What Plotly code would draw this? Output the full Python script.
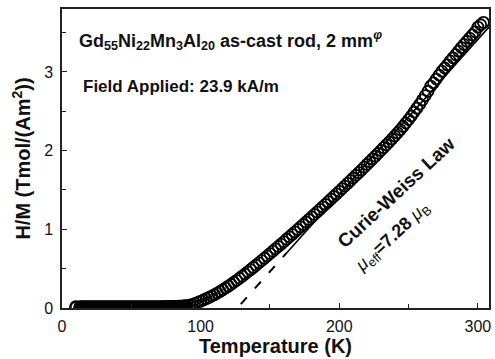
import plotly.graph_objects as go

# ---- data ----
T_flat = [10, 13, 14, 15, 16, 17, 18, 19, 20, 21, 22, 23, 24, 25, 26, 27, 28, 29, 30,
          31, 32, 33, 34, 35, 36, 37, 38, 39, 40, 41, 42, 43, 44, 45, 46, 47, 48, 49, 50,
          51, 52, 53, 54, 55, 56, 57, 58, 59, 60, 61, 62, 63, 64, 65, 66, 67, 68, 69, 70,
          71, 72, 73, 74, 75, 76, 77, 78, 79, 80, 81, 82, 83, 84, 85, 86, 87, 88, 89]
HM_flat = [0.012, 0.011, 0.010, 0.011, 0.010, 0.010, 0.011, 0.010, 0.010, 0.011, 0.010,
           0.010, 0.011, 0.010, 0.010, 0.011, 0.010, 0.010, 0.011, 0.010, 0.010, 0.011,
           0.010, 0.010, 0.011, 0.010, 0.010, 0.011, 0.010, 0.010, 0.011, 0.010, 0.010,
           0.011, 0.010, 0.010, 0.011, 0.010, 0.010, 0.011, 0.010, 0.010, 0.011, 0.010,
           0.010, 0.011, 0.010, 0.010, 0.011, 0.010, 0.010, 0.011, 0.010, 0.010, 0.011,
           0.010, 0.010, 0.011, 0.010, 0.010, 0.011, 0.011, 0.011, 0.012, 0.012, 0.012,
           0.013, 0.013, 0.014, 0.014, 0.015, 0.016, 0.017, 0.018, 0.019, 0.020, 0.022, 0.024]

T_rise = [90, 92, 94, 96, 98, 100, 102, 104, 106, 108, 110, 112, 114, 116, 118, 120,
          122, 124, 126, 128, 130, 132, 134, 136, 138, 140, 142, 144, 146, 148, 150, 152,
          154, 156, 158, 160, 162, 164, 166, 168, 170, 172, 174, 176, 178, 180, 182, 184,
          186, 188, 190, 192, 194, 196, 198, 200, 202, 204, 206, 208, 210, 212, 214, 216,
          218, 220, 222, 224, 226, 228, 230, 232, 234, 236, 238, 240, 242, 244, 246, 248,
          250, 252, 254, 256, 258, 260, 262, 264, 266, 268, 270, 272, 274, 276, 278, 280,
          282, 284, 286, 288, 290, 292, 294, 296, 298, 300, 302, 304]
HM_rise = [0.027, 0.035, 0.045, 0.058, 0.072, 0.087, 0.102, 0.118, 0.135, 0.152, 0.170,
           0.190, 0.210, 0.232, 0.255, 0.278, 0.302, 0.327, 0.352, 0.378, 0.405, 0.432,
           0.460, 0.488, 0.516, 0.545, 0.574, 0.603, 0.632, 0.662, 0.692, 0.722, 0.752,
           0.782, 0.812, 0.843, 0.874, 0.905, 0.936, 0.967, 0.998, 1.030, 1.061, 1.093,
           1.125, 1.157, 1.189, 1.221, 1.253, 1.286, 1.318, 1.351, 1.384, 1.417, 1.450,
           1.483, 1.516, 1.550, 1.584, 1.618, 1.652, 1.686, 1.720, 1.755, 1.790, 1.825,
           1.860, 1.895, 1.930, 1.966, 2.002, 2.038, 2.074, 2.110, 2.148, 2.186, 2.225,
           2.265, 2.307, 2.350, 2.395, 2.440, 2.490, 2.540, 2.590, 2.645, 2.700, 2.755,
           2.820, 2.860, 2.910, 2.960, 3.010, 3.050, 3.090, 3.140, 3.180, 3.220, 3.265,
           3.310, 3.350, 3.390, 3.430, 3.470, 3.510, 3.570, 3.600, 3.630]

# Curie-Weiss fit line (dashed extrapolation, solid fitted part)
CW_dash_T = [129, 162]
CW_dash_HM = [0.05, 0.70]
CW_solid_T = [162, 309]
CW_solid_HM = [0.70, 3.59]

x_ticks = [0, 100, 200, 300]
y_ticks = [0, 1, 2, 3]

FONT = "Liberation Sans, Arial, sans-serif"

fig = go.Figure()
fig.add_trace(go.Scatter(
    x=T_flat, y=HM_flat, mode="markers",
    marker=dict(symbol="circle-open", size=11, color="black", line=dict(width=2.6)),
    showlegend=False, cliponaxis=True))
fig.add_trace(go.Scatter(
    x=T_rise, y=HM_rise, mode="markers",
    marker=dict(symbol="circle-open", size=11, color="black", line=dict(width=1.8)),
    showlegend=False, cliponaxis=True))
fig.add_trace(go.Scatter(
    x=CW_dash_T, y=CW_dash_HM, mode="lines",
    line=dict(color="black", width=2, dash="9px,12px"), showlegend=False))
fig.add_trace(go.Scatter(
    x=CW_solid_T, y=CW_solid_HM, mode="lines",
    line=dict(color="black", width=1.6), showlegend=False))

axis_common = dict(
    showgrid=False, zeroline=False, showline=True, linecolor="#222", linewidth=1.5,
    mirror=True, ticks="inside", ticklen=5, tickwidth=1, tickcolor="#222",
    tickfont=dict(family=FONT, size=16, color="#111"),
)
fig.update_xaxes(range=[0, 308], tickvals=x_ticks, ticktext=[str(v) for v in x_ticks],
                 minor=dict(ticks="inside", dtick=50, tick0=0, ticklen=4, tickcolor="#222"),
                 ticklabelstandoff=3,
                 title=dict(text="<b>Temperature (K)</b>",
                            font=dict(family=FONT, size=20, color="#111"), standoff=3),
                 **axis_common)
fig.update_yaxes(range=[0, 3.8], tickvals=y_ticks, ticktext=[str(v) for v in y_ticks],
                 minor=dict(ticks="inside", dtick=0.5, tick0=0, ticklen=4, tickcolor="#222"),
                 ticklabelstandoff=4,
                 title=dict(text="<b>H/M (Tmol/(Am<sup>2</sup>))</b>",
                            font=dict(family=FONT, size=20, color="#111"), standoff=8),
                 **axis_common)

fig.add_annotation(x=10.8, y=3.40, xref="x", yref="y", xanchor="left", yanchor="middle",
                   showarrow=False,
                   text="<b>Gd<sub>55</sub>Ni<sub>22</sub>Mn<sub>3</sub>Al<sub>20</sub> as-cast rod, 2 mm<sup><i>φ</i></sup></b>",
                   font=dict(family=FONT, size=18, color="#111"))
fig.add_annotation(x=14.0, y=2.81, xref="x", yref="y", xanchor="left", yanchor="middle",
                   showarrow=False, text="<b>Field Applied: 23.9 kA/m</b>",
                   font=dict(family=FONT, size=17, color="#111"))
fig.add_annotation(x=241, y=1.47, xref="x", yref="y", showarrow=False, textangle=-43,
                   text="<b>Curie-Weiss Law</b>",
                   font=dict(family=FONT, size=19, color="#111"))
fig.add_annotation(x=238.5, y=0.90, xref="x", yref="y", showarrow=False, textangle=-43,
                   text="<i>μ</i><sub>eff</sub><b>=7.28 </b><i>μ</i><sub>B</sub>",
                   font=dict(family=FONT, size=18, color="#111"))

fig.update_layout(width=495, height=359, margin=dict(l=62, r=4, t=9, b=51),
                  plot_bgcolor="white", paper_bgcolor="white")

fig.write_html("out.html")
